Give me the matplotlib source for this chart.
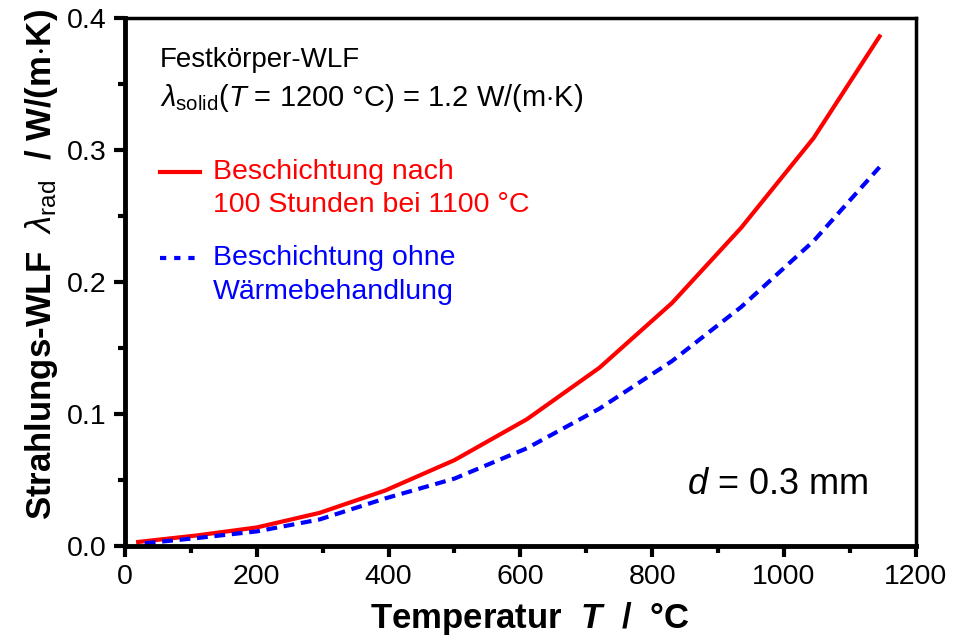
import matplotlib
matplotlib.use("Agg")
import matplotlib.pyplot as plt
from matplotlib.ticker import MultipleLocator

plt.rcParams["font.family"] = ["Liberation Sans", "DejaVu Sans"]
plt.rcParams["mathtext.fontset"] = "custom"
plt.rcParams["mathtext.rm"] = "Liberation Sans"
plt.rcParams["mathtext.it"] = "Liberation Sans:italic"
plt.rcParams["mathtext.bf"] = "Liberation Sans:bold"
plt.rcParams["mathtext.bfit"] = "Liberation Sans:bold:italic"

# Temperatur in °C
temp_red = [20, 110, 200, 295, 395, 500, 610, 720, 830, 935, 1045, 1145]
lam_red = [0.003, 0.008, 0.014, 0.025, 0.042, 0.065, 0.096, 0.135, 0.184, 0.241, 0.309, 0.386]
temp_blue = [30, 110, 200, 295, 395, 500, 610, 720, 830, 935, 1045, 1145]
lam_blue = [0.002, 0.006, 0.011, 0.020, 0.036, 0.051, 0.074, 0.104, 0.140, 0.181, 0.231, 0.287]

label_red = ["Beschichtung nach", "100 Stunden bei 1100 °C"]
label_blue = ["Beschichtung ohne", "Wärmebehandlung"]

fig = plt.figure(figsize=(9.65, 6.4), dpi=100)
ax = fig.add_axes([0.1295, 0.147, 0.8195, 0.825])

ax.plot(temp_red, lam_red, color="#ff0000", lw=3)
ax.plot(temp_blue, lam_blue, color="#0000ff", lw=3, dashes=(2.6, 1.6))

ax.set_xlim(0, 1200)
ax.set_ylim(0, 0.4)
ax.xaxis.set_major_locator(MultipleLocator(200))
ax.xaxis.set_minor_locator(MultipleLocator(100))
ax.yaxis.set_major_locator(MultipleLocator(0.1))
ax.yaxis.set_minor_locator(MultipleLocator(0.05))
ax.yaxis.set_major_formatter(plt.FormatStrFormatter("%.1f"))
ax.tick_params(which="major", direction="out", length=8, width=3, labelsize=20.5, pad=5)
ax.tick_params(which="minor", direction="out", length=5, width=3)
ax.tick_params(top=False, right=False)
for s in ["left", "bottom"]:
    ax.spines[s].set_linewidth(3.5)
for s in ["top", "right"]:
    ax.spines[s].set_linewidth(2.5)

ax.set_xlabel(r"Temperatur  $\mathbfit{T}$  /  °C", fontsize=25, fontweight="bold")
ax.set_ylabel(r"Strahlungs-WLF  $\lambda_{\mathrm{rad}}$  / W/(m$\cdot$K)", fontsize=25,
              fontweight="bold")
ax.xaxis.set_label_coords(0.512, -0.102)
ax.yaxis.set_label_coords(-0.082, 0.533)

ax.text(0.044, 0.92, "Festkörper-WLF", transform=ax.transAxes, fontsize=20, va="center")
ax.text(0.044, 0.848, r"$\lambda_{\mathrm{solid}}$($T$ = 1200 °C) = 1.2 W/(m$\cdot$K)",
        transform=ax.transAxes, fontsize=21, va="center")

ax.plot([0.044, 0.095], [0.708, 0.708], color="#ff0000", lw=3, transform=ax.transAxes)
ax.text(0.111, 0.708, label_red[0], color="#ff0000", fontsize=20.5, va="center", transform=ax.transAxes)
ax.text(0.111, 0.645, label_red[1], color="#ff0000", fontsize=20.5, va="center", transform=ax.transAxes)
ax.plot([0.044, 0.095], [0.545, 0.545], color="#0000ff", lw=3, dashes=(1.5, 1.9),
        transform=ax.transAxes)
ax.text(0.111, 0.545, label_blue[0], color="#0000ff", fontsize=20.5, va="center", transform=ax.transAxes)
ax.text(0.111, 0.481, label_blue[1], color="#0000ff", fontsize=20.5, va="center", transform=ax.transAxes)

ax.text(0.94, 0.116, r"$d$ = 0.3 mm", transform=ax.transAxes, fontsize=26, ha="right", va="center")

fig.savefig("out.png", dpi=100)
